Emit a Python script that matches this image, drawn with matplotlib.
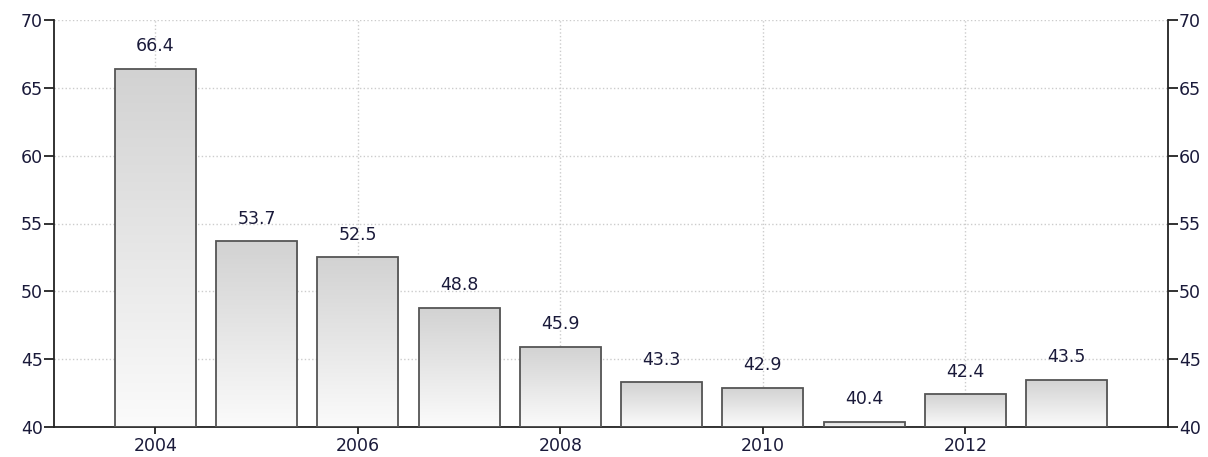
import matplotlib
matplotlib.use('Agg')
import matplotlib.pyplot as plt
import numpy as np

years = [2004, 2005, 2006, 2007, 2008, 2009, 2010, 2011, 2012, 2013]
values = [66.4, 53.7, 52.5, 48.8, 45.9, 43.3, 42.9, 40.4, 42.4, 43.5]
x_ticks = [2004, 2006, 2008, 2010, 2012]
y_ticks = [40, 45, 50, 55, 60, 65, 70]

plt.rcParams['font.family'] = ['DejaVu Sans']

fig = plt.figure(figsize=(12.08, 4.57), dpi=100)
ax = fig.add_axes([54 / 1208, 1 - 427 / 457, (1168 - 54) / 1208, (427 - 20) / 457])

ax.set_xlim(2003, 2014)
ax.set_ylim(40, 70)

bars = ax.bar(years, [v - 40 for v in values], bottom=40, width=0.8,
              facecolor='none', edgecolor='#555555', linewidth=1.3, zorder=3)

# gradient fill: darker at the top, almost white at the bottom
cmap = matplotlib.colors.LinearSegmentedColormap.from_list('g', ['#d2d2d2', '#fbfbfb'])
grad = np.linspace(0, 1, 256).reshape(-1, 1)
for b in bars:
    x0, y0 = b.get_x(), b.get_y()
    w, h = b.get_width(), b.get_height()
    im = ax.imshow(grad, extent=[x0, x0 + w, y0, y0 + h], origin='upper',
                   cmap=cmap, aspect='auto', zorder=2)
    im.set_clip_path(b)

for yr, v in zip(years, values):
    ax.text(yr, v + 1.0, f'{v:.1f}', ha='center', va='bottom', fontsize=12.5,
            color='#1a1a3a', zorder=4)

ax.set_xticks(x_ticks)
ax.set_yticks(y_ticks)
ax.grid(True, linestyle=':', color='#cccccc', linewidth=1, zorder=0)
ax.set_axisbelow(True)

ax.spines['top'].set_visible(False)
for s in ['left', 'right', 'bottom']:
    ax.spines[s].set_color('#222222')
    ax.spines[s].set_linewidth(1.3)

ax.tick_params(axis='y', which='both', left=True, right=True, labelleft=True,
               labelright=True, length=7, width=1.3, color='#222222',
               labelsize=12.5, labelcolor='#1a1a3a', pad=1)
ax.tick_params(axis='x', length=5, width=1.3, color='#222222',
               labelsize=12.5, labelcolor='#1a1a3a', pad=2)

fig.savefig('out.png', dpi=100)
